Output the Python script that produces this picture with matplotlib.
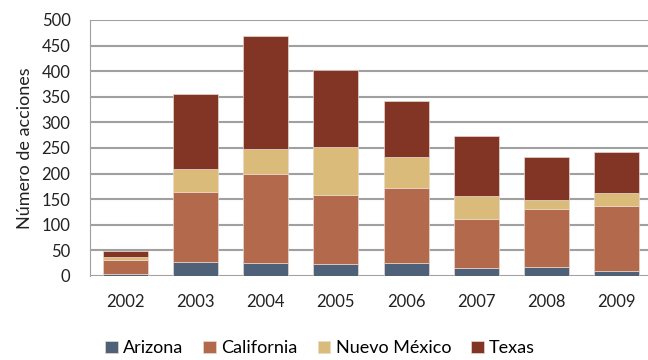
import numpy as np
import matplotlib.pyplot as plt

plt.rcParams['font.family'] = ['Lato', 'DejaVu Sans']

# Datos
years = ['2002', '2003', '2004', '2005', '2006', '2007', '2008', '2009']
arizona = [4, 28, 26, 23, 26, 15, 18, 9]
california = [28, 136, 174, 136, 146, 97, 113, 128]
nuevo_mexico = [6, 45, 48, 92, 60, 44, 17, 25]
texas = [11, 146, 221, 151, 110, 117, 84, 80]

series = [
    ('Arizona', arizona, '#4F6079'),
    ('California', california, '#B3694B'),
    ('Nuevo México', nuevo_mexico, '#DBBB7A'),
    ('Texas', texas, '#823524'),
]

fig = plt.figure(figsize=(6.48, 3.6), dpi=100)
ax = fig.add_axes([90 / 648, 1 - 276 / 360, 562 / 648, 256 / 360])

x = np.arange(len(years))
bottom = np.zeros(len(years))
for name, vals, color in series:
    ax.bar(x, vals, width=0.64, bottom=bottom, color=color, label=name,
           edgecolor='#E8D8D0', linewidth=0.5, zorder=3)
    bottom += np.array(vals)

ax.set_ylim(0, 500)
ax.set_xlim(-0.5, 7.5)
ax.set_yticks(range(0, 501, 50))
ax.set_xticks(x)
ax.set_xticklabels(years)
ax.yaxis.grid(True, color='#A0A0A0', linewidth=1.5, zorder=0)
ax.set_axisbelow(True)
for s in ['top', 'right', 'bottom']:
    ax.spines[s].set_visible(False)
ax.spines['left'].set_color('#A0A0A0')
ax.tick_params(axis='both', length=0, labelsize=12, colors='#222222')
ax.tick_params(axis='x', pad=13)
ax.tick_params(axis='y', pad=14)
ax.set_ylabel('Número de acciones', fontsize=13, color='#222222', labelpad=6)

fig.legend(loc='lower center', bbox_to_anchor=(0.494, -0.035), ncol=4, frameon=False,
           fontsize=13, handlelength=0.7, handleheight=0.7, handletextpad=0.3,
           columnspacing=1.1)

fig.savefig('out.png', dpi=100)
